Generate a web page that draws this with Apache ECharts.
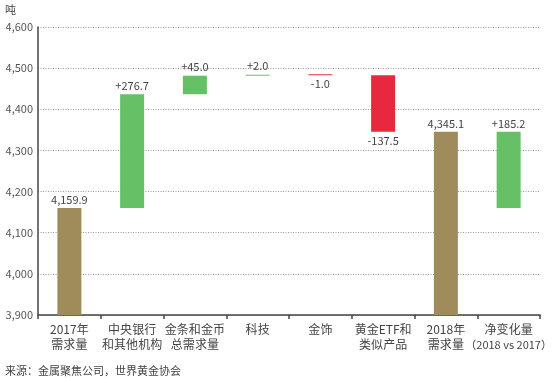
<!DOCTYPE html>
<html><head><meta charset="utf-8">
<script src="https://cdn.jsdelivr.net/npm/echarts@6/dist/echarts.min.js"></script>
<style>html,body{margin:0;padding:0;background:#fff}#c{width:557px;height:383px}</style>
</head><body><div id="c"></div>
<script>
var categories = ['2017年\n需求量','中央银行\n和其他机构','金条和金币\n总需求量','科技','金饰','黄金ETF和\n类似产品','2018年\n需求量','净变化量\n（2018 vs 2017）'];
var demand2017 = 4159.9;
var changes = [276.7, 45.0, 2.0, -1.0, -137.5];
var demand2018 = 4345.1;
var netChange = 185.2;
var yTicks = [3900, 4600, 100];

var FONT = '"Noto Sans CJK SC", "Noto Sans", sans-serif';
var GOLD = '#a08c5b', GREEN = '#66c166', RED = '#e8283c';

function fmtTotal(v){ var p = v.toFixed(1).split('.'); return p[0].replace(/\B(?=(\d{3})+(?!\d))/g, ',') + '.' + p[1]; }

var baseArr = [], valArr = [];
baseArr.push(0); valArr.push({value: demand2017, itemStyle:{color:GOLD}, label:{position:'top', formatter: fmtTotal(demand2017)}});
var run = demand2017;
changes.forEach(function(c){
  var lo = c >= 0 ? run : run + c;
  baseArr.push(lo);
  valArr.push({value: Math.abs(c), itemStyle:{color: c>=0?GREEN:RED},
    label:{position: c>=0?'top':'bottom', formatter: (c>=0?'+':'') + c.toFixed(1)}});
  run += c;
});
baseArr.push(0); valArr.push({value: demand2018, itemStyle:{color:GOLD}, label:{position:'top', formatter: fmtTotal(demand2018)}});
baseArr.push(demand2017); valArr.push({value: netChange, itemStyle:{color:GREEN}, label:{position:'top', formatter:'+' + netChange.toFixed(1)}});

var chart = echarts.init(document.getElementById('c'));
chart.setOption({
  animation:false,
  textStyle:{fontFamily:FONT},
  grid:{left:38, right:17, top:27, bottom:68},
  graphic:[
    {type:'text', left:5, top:4, style:{text:'吨', font:'11px '+FONT, fill:'#444'}},
    {type:'text', left:5, top:365, style:{text:'来源：金属聚焦公司，世界黄金协会', font:'11px '+FONT, fill:'#444'}}
  ],
  xAxis:{type:'category', data:categories,
    axisLine:{lineStyle:{color:'#444', width:1.5}},
    axisTick:{show:true, alignWithLabel:false, length:4, lineStyle:{color:'#444', width:1.5}},
    axisLabel:{color:'#444', fontSize:12, lineHeight:15, margin:7, interval:0, fontFamily:FONT,
      formatter:function(v){
        var parts = v.split('\n');
        if (parts[1] && parts[1].charAt(0) === '（') return parts[0] + '\n{s|' + parts[1] + '}';
        return v;
      },
      rich:{s:{fontSize:11, lineHeight:15, color:'#444', fontFamily:FONT}}
    }
  },
  yAxis:{type:'value', min:yTicks[0], max:yTicks[1], interval:yTicks[2],
    axisLine:{show:true, lineStyle:{color:'#444', width:1.5}},
    axisTick:{show:false},
    axisLabel:{color:'#555', fontSize:11, margin:5, fontFamily:FONT, formatter:function(v){return fmtTotal(v).replace('.0','');}},
    splitLine:{lineStyle:{color:'#999', type:[1,1.5], width:1}}
  },
  series:[
    {type:'bar', stack:'w', data:baseArr, barWidth:24, itemStyle:{color:'transparent'}, silent:true, clip:true},
    {type:'bar', stack:'w', data:valArr, barWidth:24, barMinHeight:1, clip:true,
      label:{show:true, color:'#444', fontSize:11, distance:3, fontFamily:FONT}}
  ]
});
</script></body></html>
